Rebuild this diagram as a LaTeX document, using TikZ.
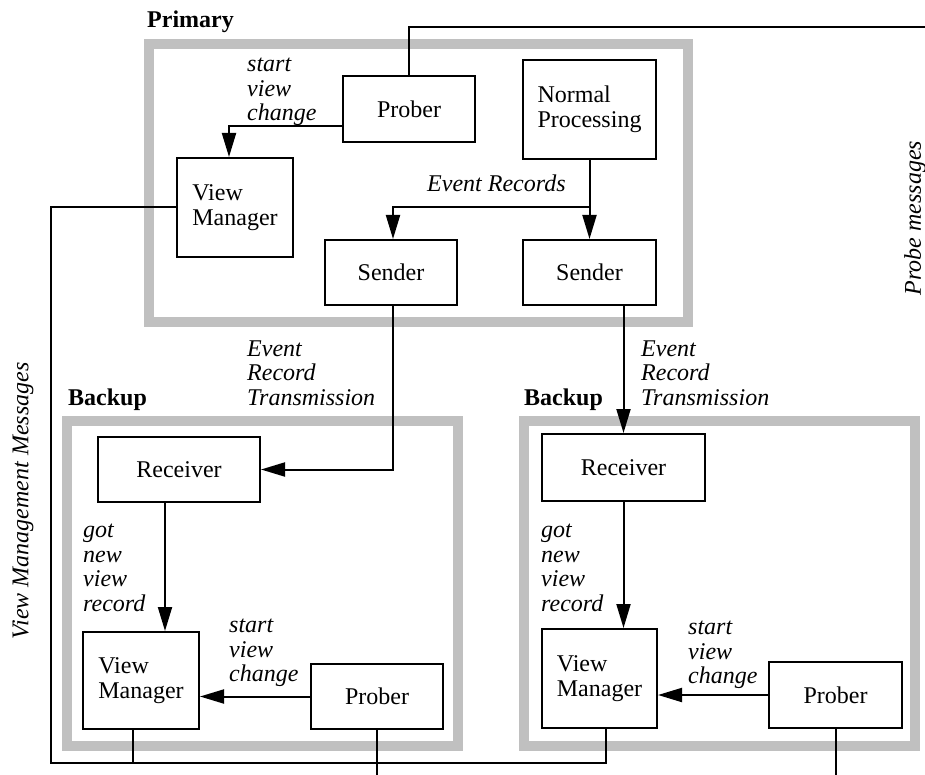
\documentclass[tikz,border=0pt]{standalone}
\usepackage{fontspec}
\setmainfont{Liberation Serif}
\usetikzlibrary{arrows.meta,calc}
\definecolor{framegray}{RGB}{192,192,192}
\begin{document}
\begin{tikzpicture}[x=1pt,y=-1pt,
  every node/.style={font=\fontsize{24}{24.5}\selectfont},
  box/.style={draw,line width=2pt,rectangle,inner sep=0pt,align=left},
  frame/.style={draw=framegray,line width=10pt},
  link/.style={line width=2pt},
  arr/.style={link,-{Triangle[length=24pt,width=14pt]}},
  tag/.style={font=\fontsize{24}{24.5}\selectfont\itshape,align=left,inner sep=0pt,anchor=west},
  title/.style={font=\fontsize{24}{24.5}\selectfont\bfseries,inner sep=0pt,anchor=base west}]
\useasboundingbox (0,0) rectangle (925,775);

% grey outlines of the three sites
\draw[frame] (149,44) rectangle (688,322);
\draw[frame] (67,421) rectangle (458,746);
\draw[frame] (524,421) rectangle (915,746);

\node[title] (tprim) at (147,28) {Primary};
\node[title] (tback1) at (68,405) {Backup};
\node[title] (tback2) at (524,405) {Backup};

% primary site
\node[box,minimum width=132pt,minimum height=66pt] (pprober) at (409,109) {Prober};
\node[box,minimum width=133pt,minimum height=99pt] (npro) at (589.5,109.5) {Normal\\Processing};
\node[box,minimum width=116pt,minimum height=99pt] (pvm) at (235,207.5) {View\\Manager};
\node[box,minimum width=132pt,minimum height=65pt] (send1) at (391,272.5) {Sender};
\node[box,minimum width=133pt,minimum height=65pt] (send2) at (589.5,272.5) {Sender};

% first backup site
\node[box,minimum width=162pt,minimum height=65pt] (recv1) at (179,469.5) {Receiver};
\node[box,minimum width=116pt,minimum height=97pt] (bvm1) at (141,680.5) {View\\Manager};
\node[box,minimum width=132pt,minimum height=65pt] (bprob1) at (377,696.5) {Prober};

% second backup site
\node[box,minimum width=163pt,minimum height=67pt] (recv2) at (623.5,467.5) {Receiver};
\node[box,minimum width=115pt,minimum height=99pt] (bvm2) at (599.5,678.5) {View\\Manager};
\node[box,minimum width=133pt,minimum height=66pt] (bprob2) at (835.5,695) {Prober};

% free ends of the message lines
\coordinate (probeend) at (925,27);
\coordinate (busL) at (51,763);
\coordinate (p1end) at (377,775);
\coordinate (p2end) at (836,775);

% connectors inside the primary
\draw[arr] ([yshift=-17pt]pprober.west) -| ([xshift=-6pt]pvm.north);
\draw[arr] (npro.south) -- (send2.north);
\draw[arr] (npro.south |- 0,207) -| ([xshift=2pt]send1.north);

% event record transmission
\draw[arr] ([xshift=2pt]send1.south) |- (recv1.east);
\draw[arr] (send2.south -| recv2.north) -- (recv2.north);

% connectors inside the backups
\draw[arr] ([xshift=-14pt]recv1.south) -- ([xshift=-14pt]recv1.south |- bvm1.north);
\draw[arr] (bprob1.west) -- (bprob1.west -| bvm1.east);
\draw[arr] (recv2.south) -- (recv2.south |- bvm2.north);
\draw[arr] (bprob2.west) -- (bprob2.west -| bvm2.east);

% probe messages
\draw[link] (pprober.north) |- (probeend);
\draw[link] (bprob1.south) -- (p1end);
\draw[link] (bprob2.south -| p2end) -- (p2end);

% view management messages
\draw[link] (pvm.west) -| (busL) -| ([xshift=6.5pt]bvm2.south);
\draw[link] ([xshift=-8pt]bvm1.south) -- ([xshift=-8pt]bvm1.south |- busL);

% labels
\node[tag] (lsvc0) at (247,92) {start\\view\\change};
\node[tag,anchor=base west] (ler) at (427,192) {Event Records};
\node[tag] (lert1) at (247,373) {Event\\Record\\Transmission};
\node[tag] (lert2) at (641,373) {Event\\Record\\Transmission};
\node[tag] (lgot1) at (83,568) {got\\new\\view\\record};
\node[tag] (lgot2) at (541,568) {got\\new\\view\\record};
\node[tag] (lsvc1) at (229,653) {start\\view\\change};
\node[tag] (lsvc2) at (688,655) {start\\view\\change};
\node[tag,anchor=center,rotate=90] (lvmm) at (23,501) {View Management Messages};
\node[tag,anchor=center,rotate=90] (lpm) at (915,218) {Probe messages};
\end{tikzpicture}
\end{document}
